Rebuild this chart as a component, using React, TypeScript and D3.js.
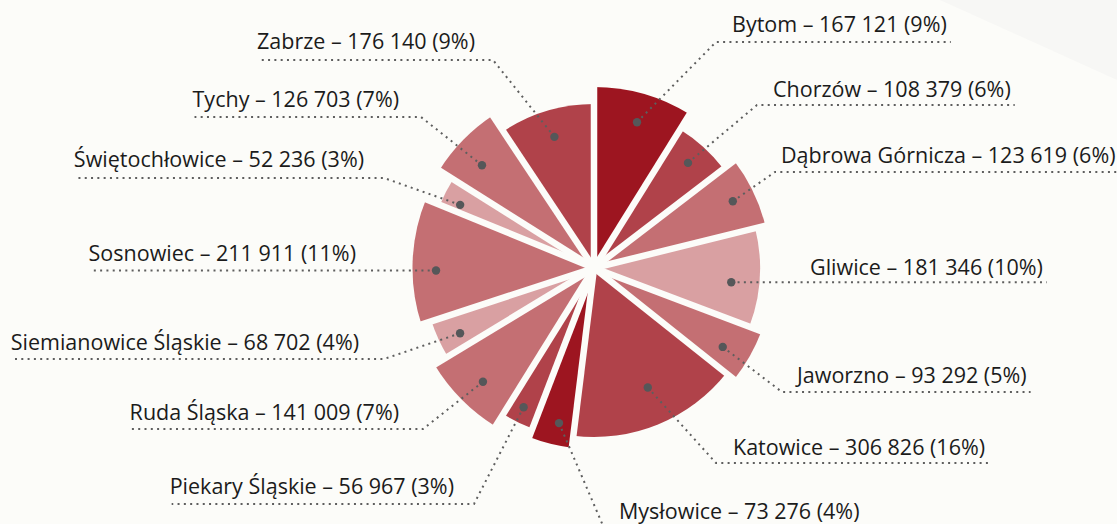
import React, { useEffect, useRef } from 'react';
import * as d3 from 'd3';

// population of the cities, clockwise from 12 o'clock
const cities = [
  'Bytom', 'Chorzów', 'Dąbrowa Górnicza', 'Gliwice', 'Jaworzno', 'Katowice', 'Mysłowice',
  'Piekary Śląskie', 'Ruda Śląska', 'Siemianowice Śląskie', 'Sosnowiec', 'Świętochłowice', 'Tychy', 'Zabrze',
];
const population = [167121, 108379, 123619, 181346, 93292, 306826, 73276, 56967, 141009, 68702, 211911, 52236, 126703, 176140];
const percent = [9, 6, 6, 10, 5, 16, 4, 3, 7, 4, 11, 3, 7, 9];
// colour class of each slice (0 = lightest, 3 = darkest)
const shade = [3, 2, 1, 0, 1, 2, 3, 2, 1, 0, 1, 0, 1, 2];

// layout
const outerR = [181, 163, 176.5, 166, 179, 169, 181, 172, 186.5, 171, 181.5, 166.5, 183, 164];
const dotR = [152, 141, 154, 138, 151, 131, 159, 156, 159, 149, 158, 148, 152, 137];
// small hand nudges of the label dots away from the slice middle (degrees)
const dotShift = [0.5, -0.4, 0, 2.5, 1.9, -2, -1.3, 0.4, -1, -1.3, -3, -2, -1.8, 0];
const labelPos = [
  { side: 'right', ex: 716, ey: 42, tx: 732, ty: 32 },
  { side: 'right', ex: 757, ey: 105, tx: 773, ty: 97 },
  { side: 'right', ex: 775, ey: 172, tx: 781, ty: 163 },
  { side: 'right', ex: null, ey: null, tx: 810, ty: 275 },
  { side: 'right', ex: 782, ey: 392, tx: 797, ty: 383 },
  { side: 'right', ex: 716, ey: 463, tx: 733, ty: 455 },
  { side: 'right', ex: 604, ey: 528, tx: 619, ty: 519 },
  { side: 'left', ex: 474, ey: 504, tx: 454, ty: 494 },
  { side: 'left', ex: 423, ey: 429, tx: 399, ty: 420 },
  { side: 'left', ex: 384, ey: 359, tx: 359, ty: 350 },
  { side: 'left', ex: null, ey: null, tx: 356, ty: 261 },
  { side: 'left', ex: 384, ey: 178, tx: 364, ty: 167 },
  { side: 'left', ex: 421, ey: 117, tx: 399, ty: 107 },
  { side: 'left', ex: 493, ey: 60, tx: 475, ty: 49 },
];

const W = 1117;
const H = 524;
const BG = '#fcfcf9';

const App = () => {
  const svgRef = useRef(null);

  useEffect(() => {
    const svg = d3.select(svgRef.current);
    svg.selectAll('*').remove();

    const cx = 594;
    const cy = 268;

    svg.append('rect').attr('width', W).attr('height', H).attr('fill', BG);
    svg.append('path').attr('d', `M940,0L${W},0L${W},80Z`).attr('fill', '#f7f7f5');

    const color = d3.scaleOrdinal<number, string>()
      .domain([0, 1, 2, 3])
      .range(['#d9a0a2', '#c46f73', '#b0424a', '#9d1520']);

    const fmt = d3.formatLocale({ decimal: ',', thousands: ' ', grouping: [3], currency: ['', ''] }).format(',');

    const arcs = d3.pie<number>().sort(null).value(d => d)(population);
    const arc = d3.arc<any>().innerRadius(0).outerRadius((d: any) => outerR[d.index]);

    const g = svg.append('g').attr('transform', `translate(${cx},${cy})`);

    g.selectAll('path.slice')
      .data(arcs)
      .enter()
      .append('path')
      .attr('class', 'slice')
      .attr('d', arc)
      .attr('fill', (d: any) => color(shade[d.index]));

    // gaps between slices, constant width down to the centre
    g.selectAll('line.gap')
      .data(arcs)
      .enter()
      .append('line')
      .attr('class', 'gap')
      .each(function (d: any) {
        const prev = (d.index + population.length - 1) % population.length;
        const r = Math.max(outerR[d.index], outerR[prev]) + 6;
        const [x, y] = d3.pointRadial(d.startAngle, r);
        d3.select(this).attr('x1', 0).attr('y1', 0).attr('x2', x).attr('y2', y);
      })
      .attr('stroke', BG)
      .attr('stroke-width', 6.5);

    const labels = svg.append('g');

    arcs.forEach((d: any, i) => {
      const mid = (d.startAngle + d.endAngle) / 2 + (dotShift[i] * Math.PI) / 180;
      const [dx, dy] = d3.pointRadial(mid, dotR[i]);
      const px = cx + dx;
      const py = cy + dy;
      const lp = labelPos[i];

      const text = labels.append('text')
        .attr('x', lp.tx)
        .attr('y', lp.ty)
        .attr('text-anchor', lp.side === 'right' ? 'start' : 'end')
        .attr('fill', '#1b1b1b')
        .style('font-family', '"Open Sans", sans-serif')
        .style('font-size', '21.5px')
        .text(`${cities[i]} – ${fmt(population[i])} (${percent[i]}%)`);

      const w = (text.node() as SVGTextElement).getComputedTextLength();
      const ex = lp.ex == null ? px : lp.ex;
      const ey = lp.ey == null ? py : lp.ey;
      const far = lp.side === 'right' ? lp.tx + w + 4 : lp.tx - w + 2;

      labels.append('path')
        .attr('d', d3.line()([[px, py], [ex, ey], [far, ey]]))
        .attr('fill', 'none')
        .attr('stroke', '#5e5e5e')
        .attr('stroke-width', 2)
        .attr('stroke-dasharray', '2 4.3');

      labels.append('circle')
        .attr('cx', px)
        .attr('cy', py)
        .attr('r', 4.2)
        .attr('fill', '#555759');
    });
  }, []);

  return (
    <svg
      ref={svgRef}
      width={W}
      height={H}
      style={{ position: 'absolute', left: 0, top: 0, display: 'block' }}
    />
  );
};

export default App;
